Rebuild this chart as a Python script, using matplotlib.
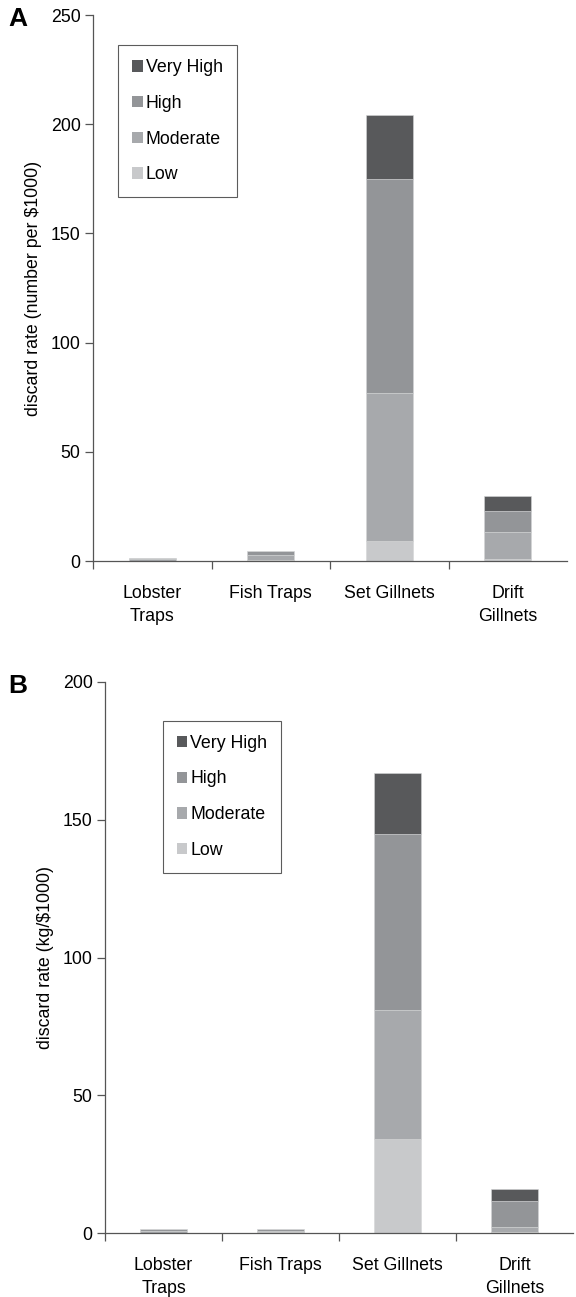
import matplotlib
matplotlib.use("Agg")
import matplotlib.pyplot as plt
import numpy as np

plt.rcParams['font.family'] = ['Liberation Sans', 'DejaVu Sans']

categories = ["Lobster\nTraps", "Fish Traps", "Set Gillnets", "Drift\nGillnets"]
levels = ["Low", "Moderate", "High", "Very High"]

# Panel A: discard rate (number per $1000)
a_low = [0.2, 0.3, 9.0, 1.0]
a_moderate = [0.9, 2.3, 68.0, 12.4]
a_high = [0.3, 1.8, 98.0, 9.5]
a_very_high = [0.0, 0.2, 29.0, 7.0]

# Panel B: discard rate (kg/$1000)
b_low = [0.1, 0.2, 34.0, 0.5]
b_moderate = [0.8, 0.7, 47.0, 1.5]
b_high = [0.5, 0.5, 64.0, 9.5]
b_very_high = [0.1, 0.1, 22.0, 4.5]

colors = {"Low": "#c8c9cb", "Moderate": "#a7a9ac", "High": "#939598", "Very High": "#58595b"}
axis_color = "#555555"
FS = 12.8

W, H = 576, 1297
fig = plt.figure(figsize=(W / 100, H / 100), dpi=100)


def panel(rect, series, ymax, yticks, ylabel, letter, letter_x, legend_bbox):
    ax = fig.add_axes(rect)
    x = np.arange(len(categories))
    bottom = np.zeros(len(categories))
    handles = {}
    for lvl, vals in zip(levels, series):
        vals = np.array(vals)
        b = ax.bar(x, vals, bottom=bottom, width=0.4, color=colors[lvl],
                   edgecolor="#d4d5d6", linewidth=0.4, label=lvl, zorder=2)
        handles[lvl] = b
        bottom += vals
    ax.set_xlim(-0.5, 3.5)
    ax.set_ylim(0, ymax)
    ax.set_yticks(yticks)
    ax.tick_params(axis='y', direction='out', length=6, width=0.9, color=axis_color,
                   labelsize=FS, pad=3)
    ax.set_xticks([-0.5, 0.5, 1.5, 2.5])
    ax.set_xticklabels([])
    ax.tick_params(axis='x', which='major', direction='out', length=6, width=0.9, color=axis_color)
    ax.set_xticks(x, minor=True)
    ax.set_xticklabels(categories, minor=True, fontsize=FS, linespacing=1.5)
    ax.tick_params(axis='x', which='minor', length=0, pad=17)
    for s in ["top", "right"]:
        ax.spines[s].set_visible(False)
    for s in ["left", "bottom"]:
        ax.spines[s].set_color(axis_color)
        ax.spines[s].set_linewidth(0.9)
    ax.set_ylabel(ylabel, fontsize=FS, labelpad=6)
    order = ["Very High", "High", "Moderate", "Low"]
    leg = ax.legend([handles[o] for o in order], order, loc="upper left",
                    bbox_to_anchor=legend_bbox, frameon=True, fancybox=False,
                    fontsize=FS, handlelength=0.6, handleheight=0.6,
                    handletextpad=0.15, labelspacing=1.05, borderpad=0.8,
                    borderaxespad=0)
    leg.get_frame().set_edgecolor("#333333")
    leg.get_frame().set_linewidth(0.8)
    for h in leg.legend_handles:
        h.set_edgecolor("none")
    fig.text(letter_x, rect[1] + rect[3] - 0.003, letter, fontsize=19,
             fontweight="bold", ha="left", va="center")
    return ax


rectA = [93 / W, 1 - 561 / H, 474 / W, 546 / H]
rectB = [105 / W, 1 - 1233 / H, 468 / W, 551 / H]

panel(rectA, [a_low, a_moderate, a_high, a_very_high], 250, [0, 50, 100, 150, 200, 250],
      "discard rate (number per $1000)", "A", 8 / W, (0.053, 0.945))
panel(rectB, [b_low, b_moderate, b_high, b_very_high], 200, [0, 50, 100, 150, 200],
      "discard rate (kg/$1000)", "B", 8 / W, (0.123, 0.93))

fig.savefig("out.png", dpi=100)
